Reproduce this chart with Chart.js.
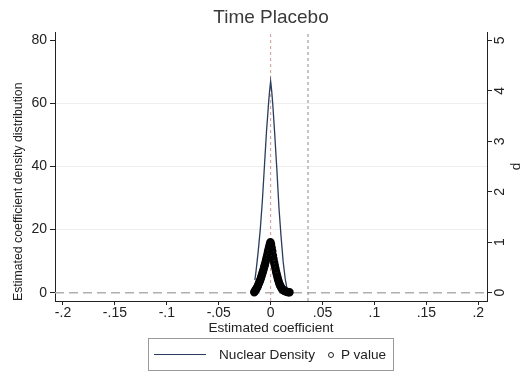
<!DOCTYPE html>
<html>
<head>
<meta charset="utf-8">
<script src="https://cdn.jsdelivr.net/npm/chart.js@4/dist/chart.umd.min.js"></script>
<style>
body { margin: 0; background: #fff; }
#wrap { position: relative; width: 530px; height: 381px; }
#legend {
	position: absolute; left: 148px; top: 338px; width: 246px; height: 33px;
	border: 1px solid #9a9a9a; box-sizing: border-box;
	font-family: "Liberation Sans", Arial, sans-serif; font-size: 13.6px; color: #222;
	display: flex; align-items: center; white-space: nowrap;
}
#legend span { flex: none; }
#legend .ln { display: inline-block; width: 52px; height: 0; border-top: 1.4px solid #2a3d5e; margin-left: 5px; }
#legend .dot { display: inline-block; width: 4px; height: 4px; border: 1px solid #222; border-radius: 50%; margin-left: 13px; }
</style>
</head>
<body>
<div id="wrap">
<canvas id="myChart" width="530" height="381"></canvas>
<div id="legend">
	<span class="ln"></span><span style="margin-left:13px">Nuclear Density</span><span class="dot"></span><span style="margin-left:7px">P value</span>
</div>
</div>
<script>
// kernel density of the placebo coefficients (left axis)
var densX = [-0.0152, -0.014, -0.012, -0.010, -0.008, -0.006, -0.004, -0.002, -0.001, 0, 0.001, 0.002, 0.004, 0.006, 0.008, 0.010, 0.012, 0.014, 0.0156];
var densY = [4, 7, 13, 20, 29, 40, 51, 60, 64, 67, 64, 60, 50, 39, 27, 18, 10, 4.5, 1.5];

// p values of the placebo coefficients (right axis)
var pCoef = [-0.0158, -0.0152, -0.0146, -0.0140, -0.0134, -0.0128, -0.0122, -0.0116, -0.0110, -0.0104,
	-0.0098, -0.0092, -0.0086, -0.0080, -0.0074, -0.0068, -0.0062, -0.0056, -0.0050, -0.0044,
	-0.0038, -0.0032, -0.0026, -0.0020, -0.0014, -0.0008, -0.0002,
	0.0004, 0.0010, 0.0016, 0.0022, 0.0028, 0.0034, 0.0040, 0.0046, 0.0052, 0.0058,
	0.0064, 0.0070, 0.0076, 0.0082, 0.0088, 0.0094, 0.0100, 0.0108, 0.0116, 0.0124,
	0.0132, 0.0142, 0.0155, 0.0170, 0.0182];
var pValue = [0.01, 0.03, 0.05, 0.07, 0.09, 0.11, 0.14, 0.17, 0.20, 0.23,
	0.26, 0.30, 0.34, 0.38, 0.42, 0.46, 0.51, 0.55, 0.60, 0.65,
	0.70, 0.75, 0.81, 0.86, 0.91, 0.96, 1.00,
	0.96, 0.89, 0.82, 0.74, 0.67, 0.60, 0.54, 0.48, 0.42, 0.37,
	0.32, 0.27, 0.23, 0.19, 0.16, 0.13, 0.11, 0.08, 0.06, 0.05,
	0.04, 0.03, 0.02, 0.01, 0.01];

// reference lines
var trueCoef = 0;
var actualCoef = 0.036;
var zeroLine = 0;

// ticks
var xTicks = [-0.2, -0.15, -0.1, -0.05, 0, 0.05, 0.1, 0.15, 0.2];
var xTickLabels = ['-.2', '-.15', '-.1', '-.05', '0', '.05', '.1', '.15', '.2'];
var yTicks = [0, 20, 40, 60, 80];
var yGrid = [20, 40, 60];
var pTicks = [0, 1, 2, 3, 4, 5];

var xMin = -0.2077, xMax = 0.2084;
var yMin = -2.63, yMax = 82.63;

var font = "'Liberation Sans', Arial, sans-serif";

const ctx = document.getElementById('myChart');
const myChart = new Chart(ctx, {
	data: {
		datasets: [
			{
				type: 'line',
				label: 'zero',
				data: [{x: xMin, y: zeroLine}, {x: xMax, y: zeroLine}],
				borderColor: '#b0b0b0',
				borderWidth: 1.5,
				borderDash: [9, 5],
				pointRadius: 0,
				yAxisID: 'y',
				order: 5
			},
			{
				type: 'line',
				label: 'true',
				data: [{x: trueCoef, y: yMin}, {x: trueCoef, y: yMax}],
				borderColor: '#c99a94',
				borderWidth: 1,
				borderDash: [3, 3],
				pointRadius: 0,
				yAxisID: 'y',
				order: 4
			},
			{
				type: 'line',
				label: 'actual',
				data: [{x: actualCoef, y: yMin}, {x: actualCoef, y: yMax}],
				borderColor: '#8a8a8a',
				borderWidth: 1,
				borderDash: [3, 3],
				pointRadius: 0,
				yAxisID: 'y',
				order: 3
			},
			{
				type: 'line',
				label: 'Nuclear Density',
				data: densX.map(function (x, i) { return {x: x, y: densY[i]}; }),
				borderColor: '#2a3d5e',
				borderWidth: 1.3,
				tension: 0,
				pointRadius: 0,
				yAxisID: 'y',
				order: 2
			},
			{
				type: 'scatter',
				label: 'P value',
				data: pCoef.map(function (x, i) { return {x: x, y: pValue[i]}; }),
				borderColor: '#000',
				backgroundColor: 'rgba(0,0,0,0)',
				borderWidth: 2.4,
				pointRadius: 3,
				yAxisID: 'y1',
				order: 1
			}
		]
	},
	options: {
		responsive: false,
		animation: false,
		layout: { padding: { left: 12, right: 0, top: 0, bottom: 41 } },
		plugins: {
			legend: { display: false },
			tooltip: { enabled: false },
			title: {
				display: true,
				text: 'Time Placebo',
				color: '#3a3a3a',
				font: { family: font, size: 19, weight: 'normal' },
				padding: { top: 6, bottom: 3.2 }
			}
		},
		scales: {
			x: {
				type: 'linear',
				min: xMin,
				max: xMax,
				afterBuildTicks: function (axis) { axis.ticks = xTicks.map(function (v) { return {value: v}; }); },
				afterFit: function (axis) { axis.height = 39; },
				ticks: {
					color: '#222',
					padding: 0,
					font: { family: font, size: 14 },
					callback: function (v) { var i = xTicks.indexOf(v); return i >= 0 ? xTickLabels[i] : ''; }
				},
				grid: { drawOnChartArea: false, tickLength: 4, tickColor: '#222' },
				border: { display: true, color: '#222', width: 1 },
				title: {
					display: true,
					text: 'Estimated coefficient',
					color: '#222',
					font: { family: font, size: 13.6 },
					padding: { top: 0, bottom: 3.8 }
				}
			},
			y: {
				type: 'linear',
				position: 'left',
				min: yMin,
				max: yMax,
				afterBuildTicks: function (axis) { axis.ticks = yTicks.map(function (v) { return {value: v}; }); },
				afterFit: function (axis) { axis.width = 43; },
				ticks: {
					color: '#222',
					padding: 3,
					font: { family: font, size: 14 }
				},
				grid: {
					color: function (c) { return c.tick && yGrid.indexOf(c.tick.value) >= 0 ? '#eeeeee' : 'rgba(0,0,0,0)'; },
					tickLength: 5,
					tickColor: '#222'
				},
				border: { display: true, color: '#222', width: 1 },
				title: {
					display: true,
					text: 'Estimated coefficient density distribution',
					align: 'start',
					color: '#222',
					font: { family: font, size: 12.3, lineHeight: 1 },
					padding: { top: 0, bottom: 0 }
				}
			},
			y1: {
				type: 'linear',
				position: 'right',
				min: yMin / 16,
				max: yMax / 16,
				afterBuildTicks: function (axis) { axis.ticks = pTicks.map(function (v) { return {value: v}; }); },
				afterFit: function (axis) { axis.width = 43; },
				ticks: {
					color: '#222',
					padding: 4,
					minRotation: 90,
					maxRotation: 90,
					crossAlign: 'center',
					font: { family: font, size: 14 }
				},
				grid: { drawOnChartArea: false, tickLength: 5, tickColor: '#222' },
				border: { display: true, color: '#222', width: 1 },
				title: {
					display: true,
					text: 'p',
					color: '#222',
					font: { family: font, size: 13.5 },
					padding: { top: 4.9, bottom: 0 }
				}
			}
		}
	}
});
</script>
</body>
</html>
